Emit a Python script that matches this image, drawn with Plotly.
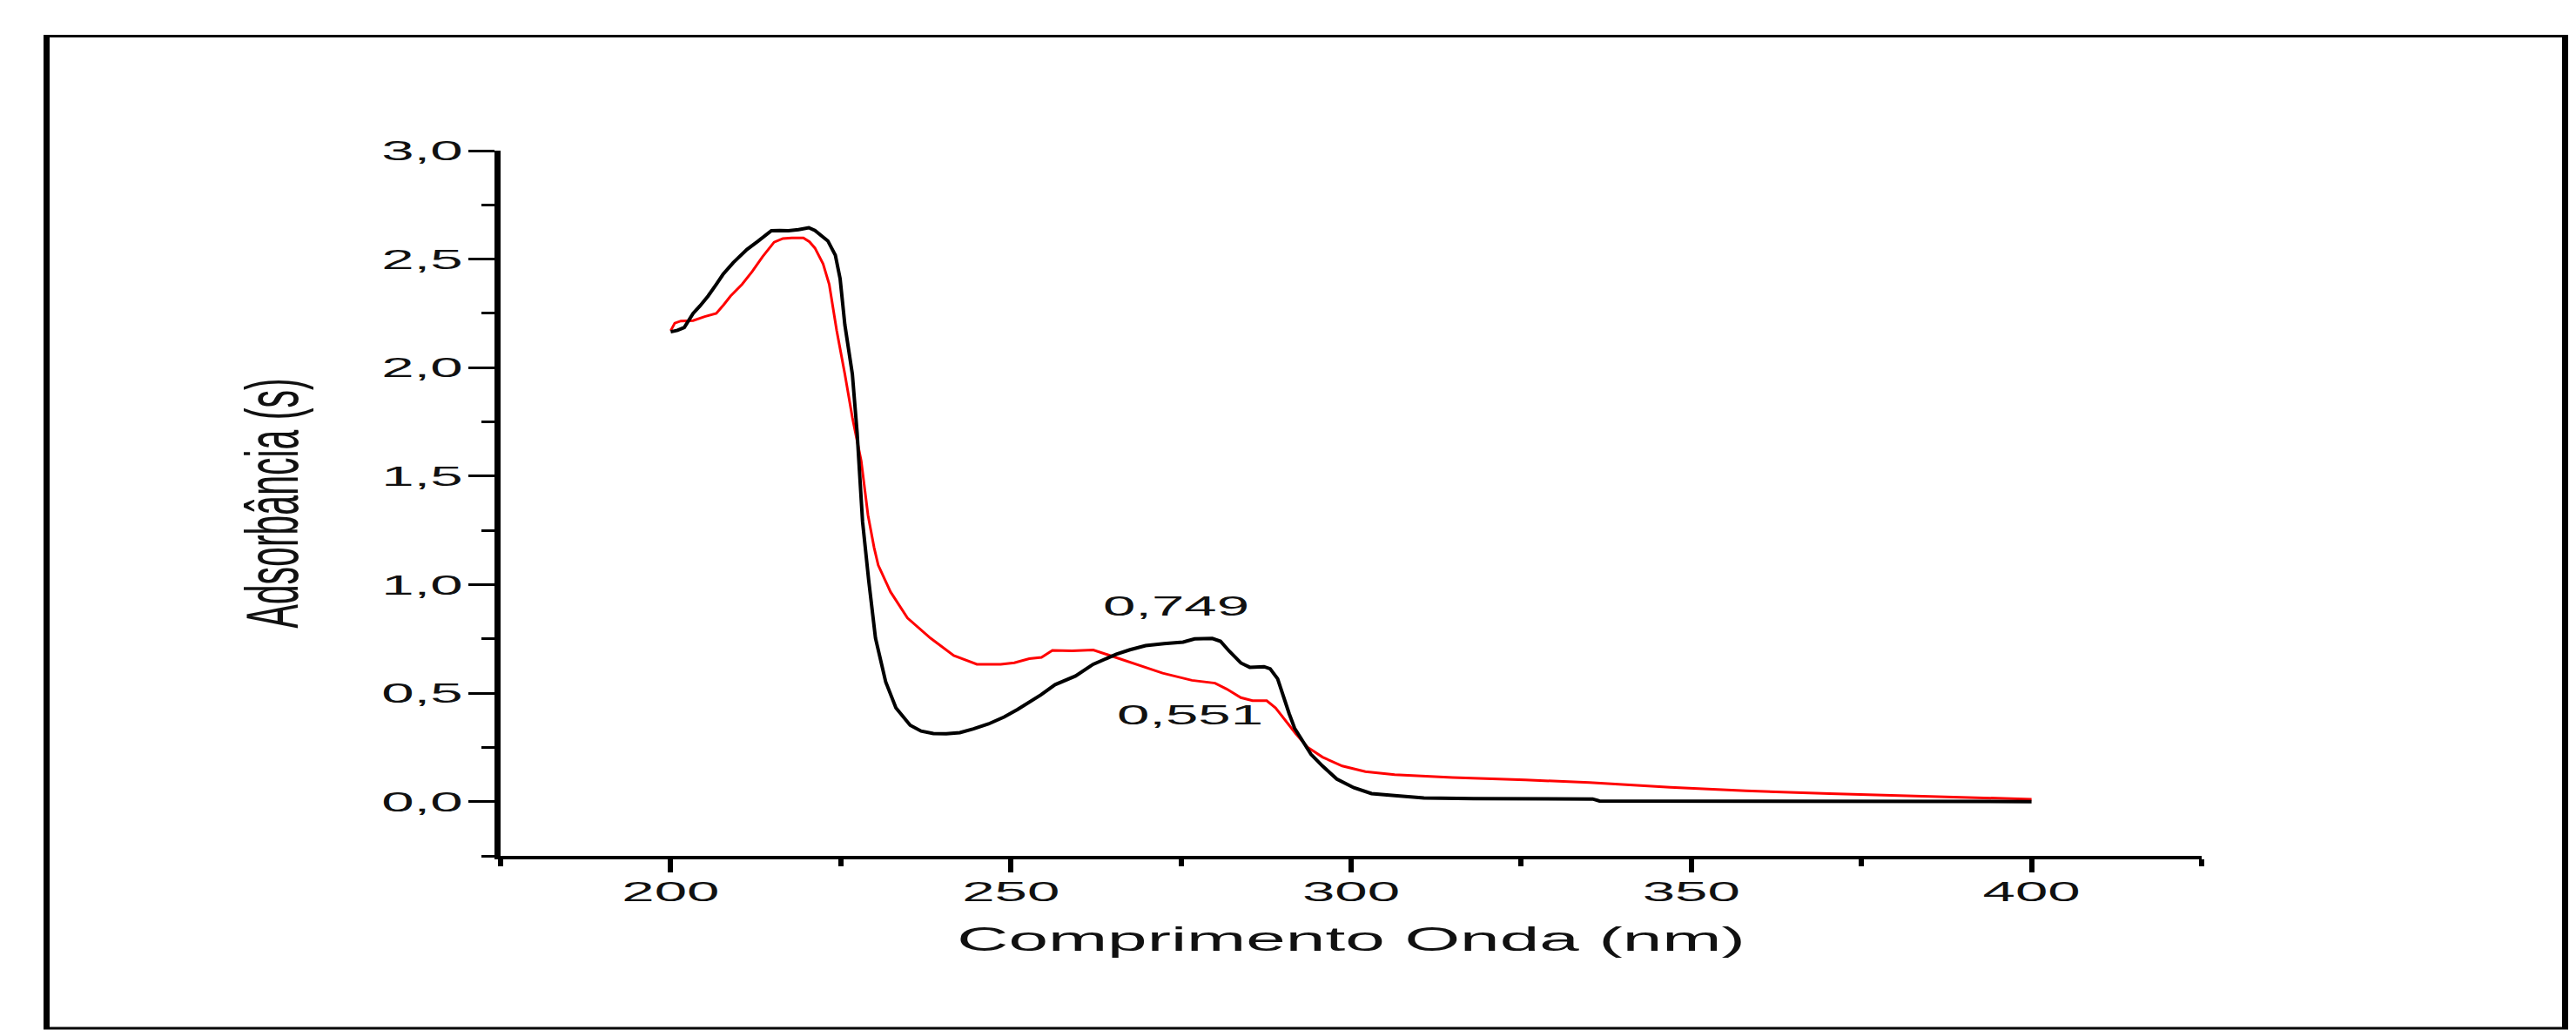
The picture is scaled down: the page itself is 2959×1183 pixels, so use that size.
import plotly.graph_objects as go

# ---------------- data ----------------
wl_black = [200.0, 201.0, 202.0, 203.3, 204.3, 205.5, 206.7, 207.7, 209.2, 211.2, 212.9, 214.8, 216.0,
            217.3, 218.8, 220.3, 221.2, 222.0, 223.1, 224.2, 224.9, 225.6, 226.7, 227.4, 228.2, 229.1,
            230.1, 231.6, 233.1, 235.2, 236.8, 238.6, 240.5, 242.5, 244.5, 246.7, 249.0, 251.0, 252.8,
            254.4, 256.5, 258.0, 259.5, 262.1, 265.5, 267.5, 269.8, 272.5, 275.3, 277.0, 278.5, 279.6,
            280.8, 282.1, 283.8, 285.1, 287.2, 288.1, 289.2, 290.0, 290.9, 291.7, 292.8, 294.1, 295.8,
            297.9, 300.4, 303.0, 306.4, 310.7, 318.0, 326.0, 335.5, 336.5, 350.0, 365.0, 380.0, 400.0]
abs_black = [2.165, 2.172, 2.185, 2.25, 2.284, 2.33, 2.384, 2.43, 2.484, 2.544, 2.584, 2.631, 2.632,
             2.631, 2.636, 2.645, 2.632, 2.611, 2.584, 2.518, 2.41, 2.197, 1.97, 1.70, 1.29, 1.02,
             0.753, 0.552, 0.432, 0.352, 0.325, 0.314, 0.313, 0.318, 0.335, 0.358, 0.39, 0.425, 0.46,
             0.492, 0.539, 0.56, 0.579, 0.633, 0.679, 0.70, 0.719, 0.728, 0.735, 0.75, 0.753, 0.752,
             0.739, 0.693, 0.639, 0.619, 0.622, 0.612, 0.566, 0.485, 0.405, 0.338, 0.285, 0.218, 0.164,
             0.104, 0.064, 0.037, 0.028, 0.017, 0.014, 0.013, 0.012, 0.003, 0.002, 0.001, 0.0, 0.0]

wl_red = [200.0, 200.6, 201.5, 203.3, 205.0, 206.7, 207.8, 208.8, 210.5, 212.0, 213.5, 215.2, 216.5,
          217.8, 219.5, 220.4, 221.2, 222.4, 223.3, 224.4, 225.6, 226.7, 228.0, 229.0, 229.9, 230.5,
          232.3, 234.8, 238.2, 241.6, 245.0, 248.5, 250.5, 252.7, 254.5, 256.1, 259.0, 262.1, 264.6,
          268.5, 272.3, 276.6, 280.0, 281.7, 283.8, 285.5, 287.6, 288.9, 290.2, 291.9, 293.6, 295.8,
          298.7, 302.1, 306.4, 314.9, 325.6, 335.0, 346.9, 358.0, 370.3, 386.1, 400.0]
abs_red = [2.17, 2.205, 2.215, 2.217, 2.235, 2.25, 2.29, 2.33, 2.384, 2.444, 2.511, 2.578, 2.595,
           2.598, 2.598, 2.58, 2.551, 2.478, 2.384, 2.17, 1.97, 1.77, 1.57, 1.32, 1.17, 1.09,
           0.967, 0.846, 0.753, 0.673, 0.633, 0.633, 0.64, 0.659, 0.665, 0.697, 0.695, 0.699, 0.673,
           0.632, 0.592, 0.559, 0.546, 0.519, 0.479, 0.465, 0.465, 0.432, 0.378, 0.312, 0.251, 0.205,
           0.164, 0.138, 0.124, 0.111, 0.100, 0.088, 0.066, 0.05, 0.037, 0.024, 0.011]

peak_labels = ["0,749", "0,551"]
x_title = "Comprimento Onda (nm)"
y_title = "Adsorbância (s)"

# ---------------- layout constants (pixels) ----------------
W, H = 2959, 1183
L, R, T, B = 575, 430, 173, 200
PW, PH = W - L - R, H - T - B
FONT = "Arial, Liberation Sans, sans-serif"
INK = "#111111"


def px_x(p):
    return (p - L) / PW


def px_y(p):
    return (H - B - p) / PH


fig = go.Figure()
fig.add_trace(go.Scatter(x=wl_red, y=abs_red, mode="lines",
                         line=dict(color="#ff0000", width=3), hoverinfo="skip"))
fig.add_trace(go.Scatter(x=wl_black, y=abs_black, mode="lines",
                         line=dict(color="#000000", width=4), hoverinfo="skip"))

fig.add_annotation(x=274.3, y=0.90, xref="x", yref="y", text=peak_labels[0], showarrow=False,
                   font=dict(family=FONT, size=32, color=INK), xanchor="center", yanchor="middle")
fig.add_annotation(x=276.3, y=0.40, xref="x", yref="y", text=peak_labels[1], showarrow=False,
                   font=dict(family=FONT, size=32, color=INK), xanchor="center", yanchor="middle")

# outer frame
frame = [
    (53.5, 41.5, 53.5, 1181.0, 7),
    (2946.5, 41.5, 2946.5, 1181.0, 7),
    (50.0, 41.5, 2950.0, 41.5, 3),
    (50.0, 1181.0, 2950.0, 1181.0, 3),
]
for x0, y0, x1, y1, w in frame:
    fig.add_shape(type="line", xref="paper", yref="paper",
                  x0=px_x(x0), y0=px_y(y0), x1=px_x(x1), y1=px_y(y1),
                  line=dict(color="#000000", width=w))

fig.update_layout(
    width=W, height=H,
    margin=dict(l=L, r=R, t=T, b=B, autoexpand=False),
    paper_bgcolor="white", plot_bgcolor="white",
    showlegend=False,
    separators=",.",
    font=dict(family=FONT, color=INK),
)
fig.update_xaxes(
    range=[175, 425], tick0=200, dtick=50, tickformat="d",
    showline=True, linecolor="black", linewidth=4, mirror=False,
    showgrid=False, zeroline=False,
    ticks="outside", ticklen=15, tickwidth=6, tickcolor="black",
    minor=dict(dtick=25, tick0=175, ticks="outside", ticklen=8, tickwidth=6, tickcolor="black", showgrid=False),
    tickfont=dict(family=FONT, size=32, color=INK),
    ticklabelstandoff=-5,
    title=dict(text=x_title, font=dict(family=FONT, size=39, color=INK), standoff=24),
    automargin=False,
)
fig.update_yaxes(
    range=[-0.25, 3.0], tick0=0, dtick=0.5, tickformat=".1f",
    showline=True, linecolor="black", linewidth=7, mirror=False,
    showgrid=False, zeroline=False,
    ticks="outside", ticklen=30, tickwidth=3, tickcolor="black",
    minor=dict(dtick=0.25, tick0=0, ticks="outside", ticklen=15, tickwidth=3, tickcolor="black", showgrid=False),
    tickfont=dict(family=FONT, size=32, color=INK),
    title=dict(text=y_title, font=dict(family=FONT, size=41, color=INK), standoff=150),
    automargin=False,
)

# The reference picture is stretched horizontally (about 2.1x); reproduce that on the text.
post = r"""
document.body.style.margin = '0';
document.documentElement.style.overflow = 'hidden';
var gd = document.getElementById('{plot_id}');
var S = 2.1;
var texts = Array.prototype.slice.call(gd.querySelectorAll('text'));
texts.forEach(function(t){
  if (!t.textContent || !t.textContent.trim()) return;
  var g = document.createElementNS('http://www.w3.org/2000/svg', 'g');
  t.parentNode.insertBefore(g, t);
  g.appendChild(t);
  var b = g.getBBox();
  var a = t.getAttribute('text-anchor') || 'start';
  var rot = (t.getAttribute('transform') || '').indexOf('rotate') >= 0;
  var cx = b.x + b.width / 2;
  if (!rot && a === 'end') cx = b.x + b.width;
  if (!rot && a === 'start') cx = b.x;
  g.setAttribute('transform', 'translate(' + cx + ',0) scale(' + S + ',1) translate(' + (-cx) + ',0)');
});
"""

fig.write_html("out.html", include_plotlyjs=True, post_script=post,
               config=dict(displayModeBar=False, responsive=False, staticPlot=True))
